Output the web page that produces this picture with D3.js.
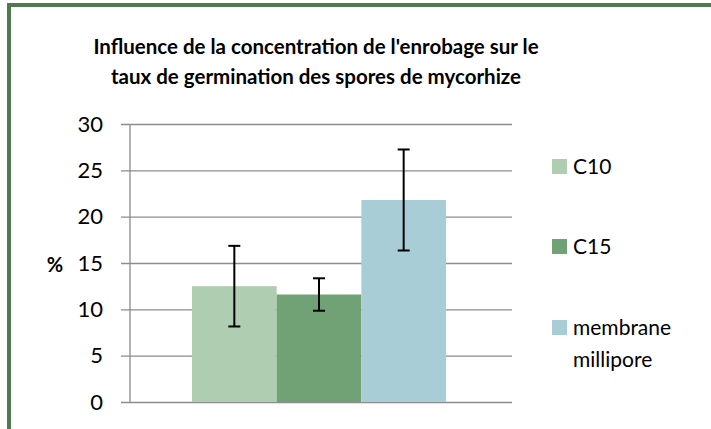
<!DOCTYPE html>
<html>
<head>
<meta charset="utf-8">
<script src="https://cdn.jsdelivr.net/npm/d3@7"></script>
<style>
  html, body { margin: 0; padding: 0; background: #fff; }
  svg { display: block; font-family: Lato, "Open Sans", sans-serif; }
</style>
</head>
<body>
<svg id="chart" width="711" height="429"></svg>
<script>
  // --- data ---
  const series  = ["C10", "C15", "membrane millipore"];
  const values  = [12.5, 11.6, 21.8];
  const errors  = [4.35, 1.75, 5.45];
  const colors  = ["#afcdb0", "#70a275", "#a9cdd6"];
  const yTicks  = [0, 5, 10, 15, 20, 25, 30];
  const titleLines = [
    "Influence de la concentration de l'enrobage sur le",
    "taux de germination des spores de mycorhize"
  ];

  (function () {
  const svg = d3.select("#chart");

  /* frame (only left + top edges are visible in the crop) */
  svg.append("path")
    .attr("d", "M9,429 V5 H711")
    .attr("fill", "none").attr("stroke", "#4f7a4f").attr("stroke-width", 4);

  /* title */
  svg.append("text")
    .attr("x", 316).attr("y", 54)
    .attr("text-anchor", "middle")
    .attr("font-weight", "bold").attr("font-size", 20.5).attr("fill", "#000")
    .selectAll("tspan").data(titleLines).join("tspan")
    .attr("x", 316).attr("dy", (d, i) => i ? 30 : 0)
    .text(d => d);

  /* plot area */
  const pL = 130, pR = 512, pT = 124, pB = 402;
  const y = d3.scaleLinear().domain([0, 30]).range([pB, pT]);
  const x = d3.scaleBand().domain(series).range([192, 446]).padding(0);

  // gridlines + ticks
  svg.append("g")
    .attr("transform", `translate(${pL},0)`)
    .call(d3.axisLeft(y).tickValues(yTicks).tickSize(-(pR - pL)).tickPadding(10))
    .call(g => g.select(".domain").remove())
    .call(g => g.selectAll(".tick line").attr("stroke", "#8c8c8c").attr("stroke-width", 1.3).attr("x1", -9))
    .call(g => g.selectAll(".tick text")
      .attr("x", -27).attr("font-size", 22).attr("fill", "#000")
      .attr("font-family", "Lato, sans-serif"));

  // y axis line
  svg.append("line")
    .attr("x1", pL).attr("x2", pL).attr("y1", pT).attr("y2", pB)
    .attr("stroke", "#8c8c8c").attr("stroke-width", 1.3);

  // bars
  svg.append("g").selectAll("rect").data(series).join("rect")
    .attr("x", d => x(d))
    .attr("width", x.bandwidth())
    .attr("y", (d, i) => y(values[i]))
    .attr("height", (d, i) => pB - y(values[i]))
    .attr("fill", (d, i) => colors[i]);

  // error bars
  const eb = svg.append("g").attr("stroke", "#000").attr("stroke-width", 2);
  series.forEach((s, i) => {
    const cx = x(s) + x.bandwidth() / 2;
    const hi = y(values[i] + errors[i]), lo = y(values[i] - errors[i]);
    eb.append("line").attr("x1", cx).attr("x2", cx).attr("y1", hi).attr("y2", lo);
    eb.append("line").attr("x1", cx - 6).attr("x2", cx + 6).attr("y1", hi).attr("y2", hi);
    eb.append("line").attr("x1", cx - 6).attr("x2", cx + 6).attr("y1", lo).attr("y2", lo);
  });

  // axis label
  svg.append("text")
    .attr("x", 55).attr("y", 272)
    .attr("text-anchor", "middle")
    .attr("font-weight", "bold").attr("font-size", 20).text("%");

  /* legend */
  const legendY = [159, 239, 320];
  const lg = svg.append("g");
  series.forEach((s, i) => {
    lg.append("rect")
      .attr("x", 552).attr("y", legendY[i]).attr("width", 15).attr("height", 15)
      .attr("fill", colors[i]);
    const words = s.split(" ");
    lg.append("text")
      .attr("x", 573).attr("y", legendY[i] + 15)
      .attr("font-size", 21).attr("fill", "#000")
      .selectAll("tspan").data(words).join("tspan")
      .attr("x", 573).attr("dy", (d, k) => k ? 32 : 0)
      .text(d => d);
  });
  })();
</script>
</body>
</html>
